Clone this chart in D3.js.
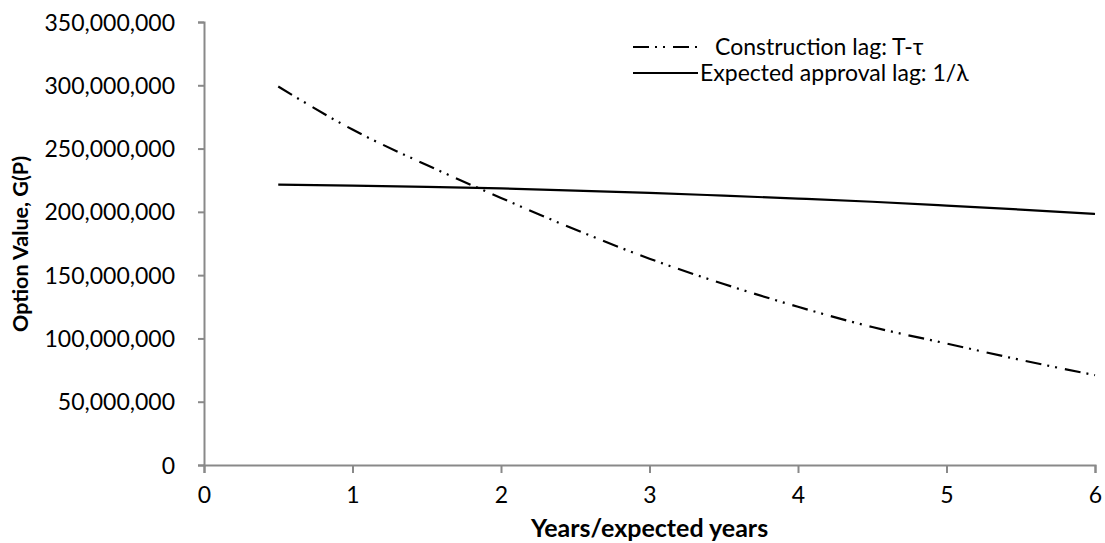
<!DOCTYPE html>
<html>
<head>
<meta charset="utf-8">
<script src="https://cdn.jsdelivr.net/npm/d3@7"></script>
<style>
  body { margin: 0; background: #fff; }
  text { font-family: Lato, "Open Sans", sans-serif; fill: #000; }
</style>
</head>
<body>
<div id="chart"></div>
<script>
// values (millions)
var years = [0.5, 1, 1.5, 2, 2.5, 3, 3.5, 4, 4.5, 5, 5.5, 6];
var constructionLag = [299, 265, 237, 211, 186, 163, 143, 125, 109, 96, 83, 71];
var approvalLag = [221.5, 220.8, 219.8, 218.5, 216.8, 215, 212.8, 210.5, 208, 205, 201.8, 198.3];
var xTicks = [0, 1, 2, 3, 4, 5, 6];
var yTicks = [0, 50, 100, 150, 200, 250, 300, 350];
var seriesNames = ["Construction lag: T-\u03c4", "Expected approval lag: 1/\u03bb"];

var width = 1105, height = 543;
var plotLeft = 204, plotRight = 1095, plotTop = 22, plotBottom = 465;

var svg = d3.select("#chart").append("svg")
    .attr("width", width)
    .attr("height", height);

var xScale = d3.scaleLinear().domain([0, 6]).range([plotLeft, plotRight]);
var yScale = d3.scaleLinear().domain([0, 350]).range([plotBottom, plotTop]);

var axisColor = "#898989";
var fmt = function (d) { return d3.format(",")(d * 1000000); };

// y axis
var yAxis = svg.append("g")
    .attr("transform", "translate(" + plotLeft + ",0)")
    .call(d3.axisLeft(yScale).tickValues(yTicks).tickFormat(fmt).tickSize(6).tickPadding(23));
yAxis.select(".domain").attr("stroke", axisColor).attr("stroke-width", 2);
yAxis.selectAll(".tick line").attr("stroke", axisColor).attr("stroke-width", 2);
yAxis.selectAll("text").style("font-size", "23px").attr("fill", "#000").attr("dy", "0.35em");

// x axis
var xAxis = svg.append("g")
    .attr("transform", "translate(0," + plotBottom + ")")
    .call(d3.axisBottom(xScale).tickValues(xTicks).tickFormat(d3.format("d")).tickSize(8).tickPadding(14));
xAxis.select(".domain").attr("stroke", axisColor).attr("stroke-width", 2);
xAxis.selectAll(".tick line").attr("stroke", axisColor).attr("stroke-width", 2);
xAxis.selectAll("text").style("font-size", "23px").attr("fill", "#000");

// axis titles
svg.append("text")
    .attr("transform", "translate(20," + 244 + ") rotate(-90)")
    .attr("dy", "0.35em")
    .style("text-anchor", "middle")
    .style("font-size", "21.5px")
    .style("font-weight", "bold")
    .text("Option Value, G(P)");

svg.append("text")
    .attr("x", (plotLeft + plotRight) / 2)
    .attr("y", 528)
    .attr("dy", "0.35em")
    .style("text-anchor", "middle")
    .style("font-size", "25px")
    .style("font-weight", "bold")
    .text("Years/expected years");

// lines
var line = function (vals) {
    return d3.line()
        .x(function (d, i) { return xScale(years[i]); })
        .y(function (d) { return yScale(d); })
        .curve(d3.curveMonotoneX)(vals);
};

var dashPattern = "16,6,2,6,2,8";

svg.append("path")
    .attr("d", line(approvalLag))
    .attr("fill", "none")
    .attr("stroke", "#000")
    .attr("stroke-width", 2.2);

svg.append("path")
    .attr("d", line(constructionLag))
    .attr("fill", "none")
    .attr("stroke", "#000")
    .attr("stroke-width", 2.2)
    .attr("stroke-dasharray", dashPattern);

// legend
var legend = svg.append("g");
legend.append("line")
    .attr("x1", 633).attr("x2", 698).attr("y1", 47).attr("y2", 47)
    .attr("stroke", "#000").attr("stroke-width", 2.2)
    .attr("stroke-dasharray", dashPattern);
legend.append("text")
    .attr("x", 715).attr("y", 47).attr("dy", "0.35em")
    .style("font-size", "23px")
    .text(seriesNames[0]);
legend.append("line")
    .attr("x1", 633).attr("x2", 698).attr("y1", 73).attr("y2", 73)
    .attr("stroke", "#000").attr("stroke-width", 2.2);
legend.append("text")
    .attr("x", 700).attr("y", 73).attr("dy", "0.35em")
    .style("font-size", "23px")
    .text(seriesNames[1]);
</script>
</body>
</html>
